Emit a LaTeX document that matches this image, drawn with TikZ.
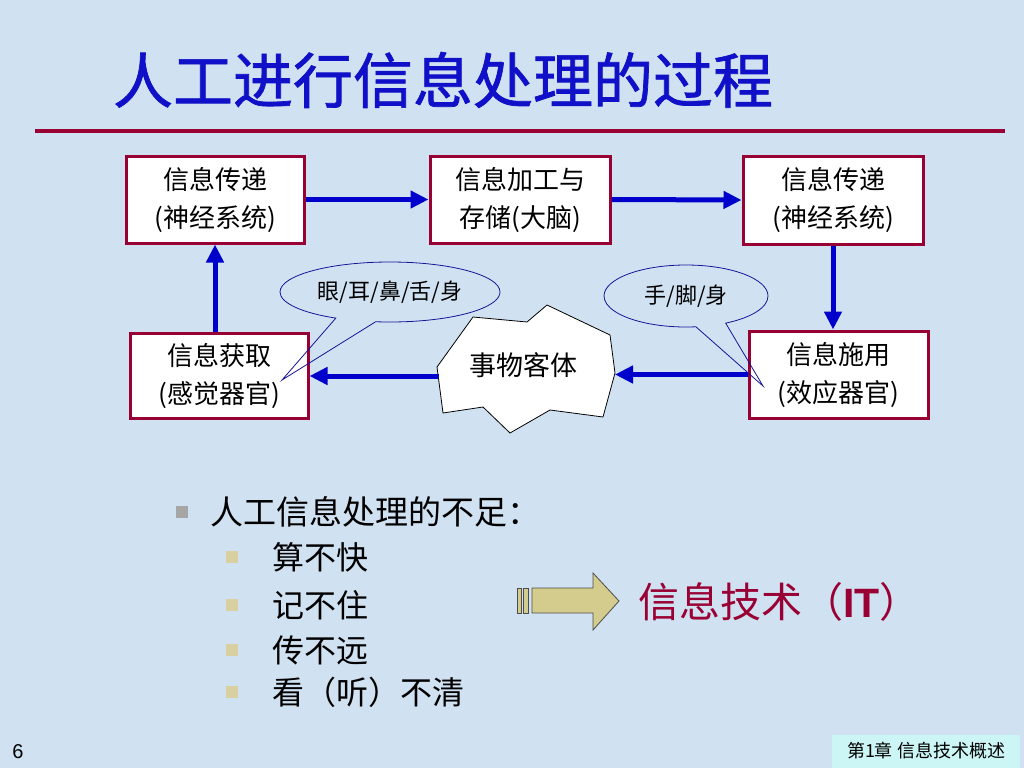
\documentclass[tikz,border=0pt]{standalone}
\usepackage{fontspec}
\setmainfont{Noto Sans CJK SC}
\newfontfamily\lib{Liberation Sans}
\newfontfamily\cjkheavy{Noto Sans CJK SC}[FakeBold=1.2]
\usetikzlibrary{arrows.meta,shapes.callouts}
\definecolor{bgblue}{RGB}{208,226,242}
\definecolor{boxred}{RGB}{153,0,51}
\definecolor{arrowblue}{RGB}{0,0,204}
\definecolor{titleblue}{RGB}{16,16,200}
\definecolor{callblue}{RGB}{20,20,150}
\definecolor{khaki}{RGB}{212,204,140}
\definecolor{tanbullet}{RGB}{216,208,160}
\definecolor{footcyan}{RGB}{204,245,245}
\tikzset{
  flowbox/.style={draw=boxred, line width=3pt, fill=white, align=center,
    font=\fontsize{26pt}{38pt}\selectfont, inner sep=0pt},
  arr/.style={draw=arrowblue, line width=5pt, -{Triangle[length=18pt,width=17pt]}},
  callbox/.style={ellipse callout, draw=callblue, line width=0.8pt,
    font=\fontsize{22pt}{24pt}\selectfont, inner sep=0pt},
  listtxt/.style={anchor=west, font=\fontsize{32pt}{34pt}\selectfont, inner sep=0pt},
  tanbox/.style={fill=tanbullet, minimum size=12pt, inner sep=0pt},
}
\begin{document}
\begin{tikzpicture}[x=1pt,y=-1pt]
\fill[bgblue] (0,0) rectangle (1024,768);
\useasboundingbox (0,0) rectangle (1024,768);
% title
\node[font=\cjkheavy\fontsize{60pt}{64pt}\selectfont, text=titleblue, inner sep=0pt] (title) at (443,80) {人工进行信息处理的过程};
\draw[boxred, line width=4pt] (35,131) -- (1005,131);
% boxes
\node[flowbox, minimum width=178pt, minimum height=87pt] (b1) at (215,199.5) {信息传递\\(神经系统)};
\node[flowbox, minimum width=180pt, minimum height=87pt] (b2) at (520,199.5) {信息加工与\\存储(大脑)};
\node[flowbox, minimum width=180pt, minimum height=88pt] (b3) at (833,200) {信息传递\\(神经系统)};
\node[flowbox, minimum width=179pt, minimum height=87pt] (b4) at (838.5,374.5) {信息施用\\(效应器官)};
\node[flowbox, minimum width=178pt, minimum height=85pt] (b5) at (219,375.5) {信息获取\\(感觉器官)};
% cloud
\draw[fill=white, line width=0.8pt] (437,367) -- (473,317) -- (527,322) -- (547,305) -- (610,335) -- (615,373) -- (603,417) -- (550,410) -- (510,433) -- (483,407) -- (443,413) -- cycle;
\node[font=\fontsize{27pt}{30pt}\selectfont, inner sep=0pt] (obj) at (523,365) {事物客体};
\coordinate (cr) at (615,373);
\coordinate (cl) at (439,376);
% arrows
\draw[arr] (b1.east) -- (b2.west);
\draw[arr] (b2.east) -- (b3.west);
\draw[arr] (b3.south) -- (b3.south |- b4.north);
\draw[arr] (b4.west) -- (b4.west -| cr);
\draw[arr] (cl) -- (cl -| b5.east);
\draw[arr] (b1.south |- b5.north) -- (b1.south);
% callouts
\node[callbox, minimum width=220pt, minimum height=60pt,
  callout absolute pointer={(282,380)}, callout pointer arc=22] (c1) at (390,292) {眼/耳/鼻/舌/身};
\node[callbox, minimum width=164pt, minimum height=62pt,
  callout absolute pointer={(763,386)}, callout pointer arc=22] (c2) at (686,296) {手/脚/身};
% list
\node[fill=gray!70, minimum size=12pt, inner sep=0pt] (m0) at (182,512) {};
\node[listtxt, font=\fontsize{33pt}{34pt}\selectfont] (t0) at (210,512) {人工信息处理的不足：};
\node[tanbox] (m1) at (232,557) {};
\node[listtxt] (t1) at (272,557) {算不快};
\node[tanbox] (m2) at (232,605) {};
\node[listtxt] (t2) at (272,605) {记不住};
\node[tanbox] (m3) at (232,650) {};
\node[listtxt] (t3) at (272,650) {传不远};
\node[tanbox] (m4) at (232,692) {};
\node[listtxt] (t4) at (272,692) {看（听）不清};
% block arrow
\draw[fill=khaki, draw=black!70, line width=0.8pt] (517,588) rectangle (521,613);
\draw[fill=khaki, draw=black!70, line width=0.8pt] (523,588) rectangle (528,613);
\draw[fill=khaki, draw=black!70, line width=0.8pt] (532,588) -- (593,588) -- (593,573) -- (619,601) -- (593,630) -- (593,613) -- (532,613) -- cycle;
\node[anchor=west, text=boxred, font=\fontsize{41pt}{44pt}\selectfont, inner sep=0pt] (it) at (638,602) {信息技术（{\lib\bfseries IT}）};
% footer
\fill[footcyan] (832,735) rectangle (1020,768);
\node[font=\fontsize{18pt}{20pt}\selectfont, inner sep=0pt] (foot) at (926,751) {第1章 信息技术概述};
\node[font=\lib\fontsize{20pt}{22pt}\selectfont, inner sep=0pt] (pg) at (18,752) {6};
\end{tikzpicture}
\end{document}
